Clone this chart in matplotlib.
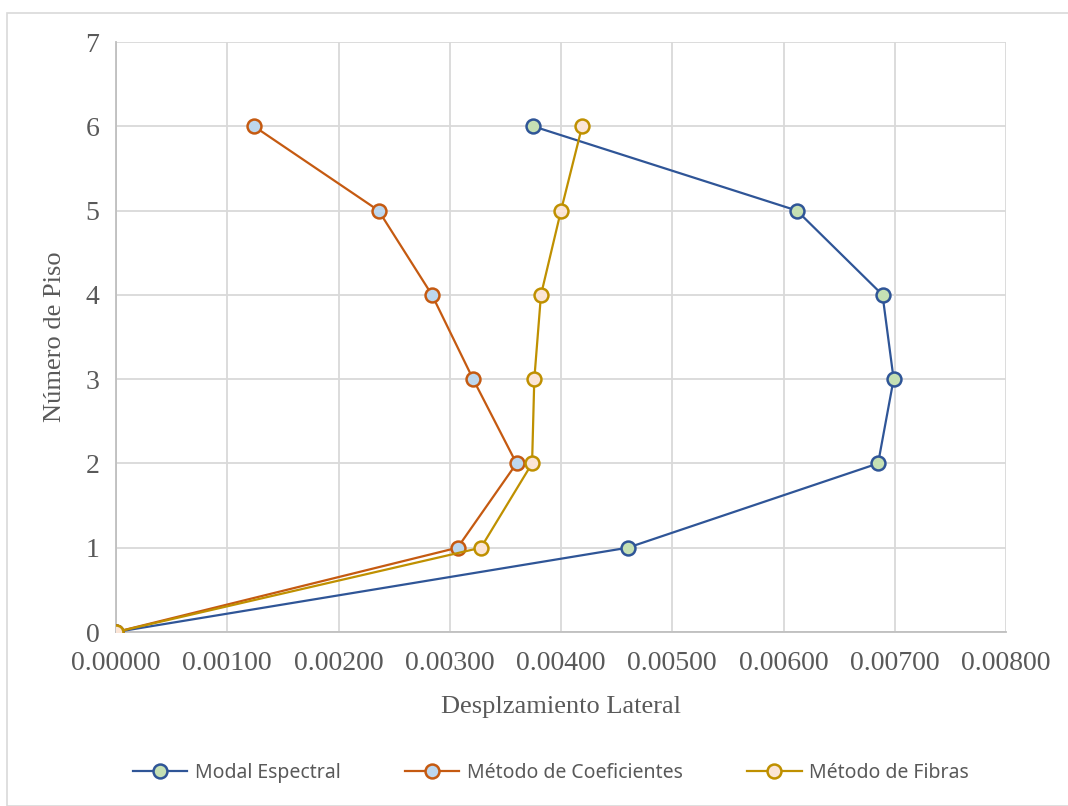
import matplotlib.pyplot as plt
from matplotlib.patches import Rectangle

# Datos
pisos = [0, 1, 2, 3, 4, 5, 6]
modal_espectral = [0.0, 0.00460, 0.00685, 0.00699, 0.00689, 0.00612, 0.00375]
metodo_coef = [0.0, 0.00307, 0.00360, 0.00321, 0.00284, 0.00236, 0.00124]
metodo_fibras = [0.0, 0.00328, 0.00374, 0.00376, 0.00382, 0.00400, 0.00419]

series = [
    ("Modal Espectral", modal_espectral, "#2F5597", "#C5E0B4"),
    ("Método de Coeficientes", metodo_coef, "#C55A11", "#BDD7EE"),
    ("Método de Fibras", metodo_fibras, "#BF9000", "#FBE5D6"),
]

fig = plt.figure(figsize=(10.68, 8.06), dpi=100)
ax = fig.add_axes([116 / 1068, 1 - 632 / 806, 890 / 1068, 590 / 806])

# Marco exterior del gráfico
fig.patches.append(Rectangle((7 / 1068, 0.0), 1.0, 1 - 13 / 806, transform=fig.transFigure,
                             fill=False, edgecolor="#D9D9D9", linewidth=1.2))

for nombre, valores, borde, relleno in series:
    ax.plot(valores, pisos, color=borde, linewidth=1.6, marker="o", markersize=10,
            markerfacecolor=relleno, markeredgecolor=borde, markeredgewidth=1.8,
            label=nombre, zorder=3)

ax.set_xlim(0, 0.008)
ax.set_ylim(0, 7)
ax.set_xticks([i * 0.001 for i in range(9)])
ax.set_xticklabels([f"{i * 0.001:.5f}" for i in range(9)])
ax.set_yticks(range(8))

ax.grid(True, color="#D9D9D9", linewidth=1.3)
ax.set_axisbelow(True)
for lado in ["top", "right"]:
    ax.spines[lado].set_visible(False)
for lado in ["left", "bottom"]:
    ax.spines[lado].set_color("#BFBFBF")
    ax.spines[lado].set_linewidth(1.3)
ax.tick_params(axis="x", length=0, pad=14, labelsize=20, labelcolor="#595959")
ax.tick_params(axis="y", length=0, pad=12, labelsize=20, labelcolor="#595959")
for lab in ax.get_xticklabels() + ax.get_yticklabels():
    lab.set_fontfamily("Liberation Serif")

ax.set_xlabel("Desplzamiento Lateral", fontsize=19, color="#595959",
              fontfamily="Liberation Serif", labelpad=14)
ax.set_ylabel("Número de Piso", fontsize=19, color="#595959",
              fontfamily="Liberation Serif", labelpad=14)

leg = fig.legend(loc="center", bbox_to_anchor=(551 / 1068, 1 - 773 / 806), ncol=3,
                 frameon=False, prop={"family": "Noto Sans", "size": 14},
                 handlelength=2.8, columnspacing=3.3, handletextpad=0.4)
for t in leg.get_texts():
    t.set_color("#595959")

fig.savefig("out.png", dpi=100)
